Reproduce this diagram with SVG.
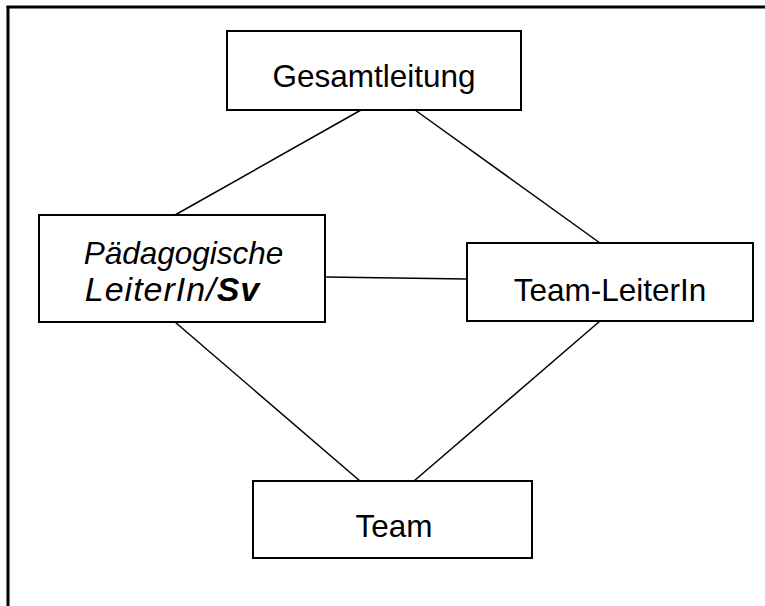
<svg xmlns="http://www.w3.org/2000/svg" width="765" height="606" viewBox="0 0 765 606">
<style>
.box{fill:#fff;stroke:#000;stroke-width:2}
.lbl{font-family:"Liberation Sans",Arial,sans-serif;font-size:31.5px;fill:#000;text-anchor:middle}
.big{font-size:34px;font-style:italic}
.con line{stroke:#000;stroke-width:1.5}
</style>
<rect width="765" height="606" fill="#fff"/>
<g id="frame" stroke="#000" stroke-width="3" fill="none">
<line x1="6.5" y1="7" x2="765" y2="7"/>
<line x1="8" y1="6" x2="8" y2="606"/>
</g>
<g id="connectors" class="con">
<line x1="361" y1="110" x2="175" y2="215"/>
<line x1="415" y1="110" x2="600" y2="243"/>
<line x1="325" y1="277" x2="467" y2="279"/>
<line x1="175" y1="322" x2="360" y2="481"/>
<line x1="600" y1="321" x2="414" y2="481"/>
</g>
<g id="gesamtleitung">
<rect class="box" x="227" y="31" width="294" height="79"/>
<text class="lbl" x="374" y="87">Gesamtleitung</text>
</g>
<g id="paedagogische">
<rect class="box" x="39" y="215" width="286" height="107"/>
<text class="lbl" x="183.5" y="264" font-style="italic">Pädagogische</text>
<text class="lbl big" x="172.5" y="301" letter-spacing="1">LeiterIn/<tspan font-weight="bold">Sv</tspan></text>
</g>
<g id="teamleiterin">
<rect class="box" x="467" y="243" width="286" height="78"/>
<text class="lbl" x="610" y="301">Team-LeiterIn</text>
</g>
<g id="team">
<rect class="box" x="253" y="481" width="279" height="77"/>
<text class="lbl" x="394" y="537">Team</text>
</g>
</svg>
